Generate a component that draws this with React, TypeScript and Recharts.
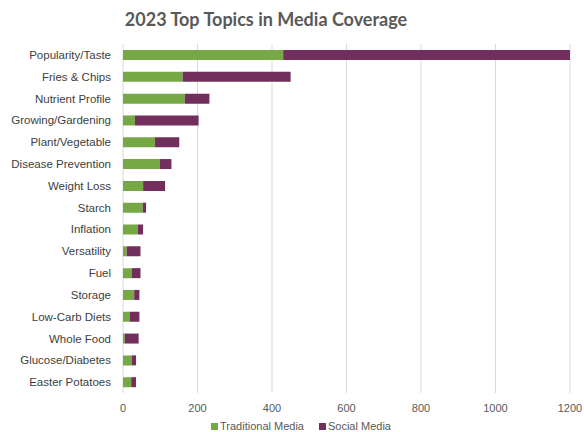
import { BarChart, Bar, XAxis, YAxis, CartesianGrid, Legend } from "recharts";

const topics = [
  "Popularity/Taste",
  "Fries & Chips",
  "Nutrient Profile",
  "Growing/Gardening",
  "Plant/Vegetable",
  "Disease Prevention",
  "Weight Loss",
  "Starch",
  "Inflation",
  "Versatility",
  "Fuel",
  "Storage",
  "Low-Carb Diets",
  "Whole Food",
  "Glucose/Diabetes",
  "Easter Potatoes",
];
const traditional = [430, 160, 166, 32, 86, 99, 54, 53, 40, 10, 23, 30, 18, 5, 23, 22];
const social = [770, 290, 66, 171, 65, 31, 59, 9, 14, 37, 24, 14, 26, 37, 12, 13];
const ticks = [0, 200, 400, 600, 800, 1000, 1200];
const seriesNames = ["Traditional Media", "Social Media"];

const data = topics.map((name, i) => ({
  name,
  traditional: traditional[i],
  social: social[i],
}));

const GREEN = "#77a846";
const PURPLE = "#722f5d";
const FONT = "'Liberation Sans', Arial, sans-serif";

function CategoryTick(props: any) {
  const { x, y, payload } = props;
  return (
    <text x={x} y={y} dy="0.355em" textAnchor="end" fill="#404040" fontSize={11.5} fontFamily={FONT}>
      {payload.value}
    </text>
  );
}

function LegendBox() {
  const colors = [GREEN, PURPLE];
  return (
    <div style={{ display: "flex", fontFamily: FONT, fontSize: 11, color: "#595959", lineHeight: "13px" }}>
      {seriesNames.map((n, i) => (
        <div key={n} style={{ display: "flex", alignItems: "center", marginRight: 15 }}>
          <span style={{ display: "inline-block", width: 7, height: 7, background: colors[i], marginRight: 2 }} />
          <span>{n}</span>
        </div>
      ))}
    </div>
  );
}

export default function App() {
  return (
    <div style={{ position: "absolute", left: 0, top: 0, width: 584, height: 432, background: "#fff", overflow: "hidden" }}>
      <div
        style={{
          position: "absolute",
          top: 8,
          left: 0,
          width: 532,
          textAlign: "center",
          fontFamily: "Lato, 'Open Sans', sans-serif",
          fontWeight: 700,
          fontSize: 18,
          color: "#595959",
        }}
      >
        2023 Top Topics in Media Coverage
      </div>
      <BarChart
        width={584}
        height={432}
        layout="vertical"
        data={data}
        margin={{ top: 44, right: 14, left: 0, bottom: 9 }}
        style={{ fontFamily: FONT }}
      >
        <CartesianGrid horizontal={false} stroke="#d9d9d9" />
        <XAxis
          type="number"
          domain={[0, 1200]}
          ticks={ticks}
          allowDataOverflow
          axisLine={false}
          tickLine={false}
          tickMargin={5}
          tick={{ fill: "#595959", fontSize: 11 }}
        />
        <YAxis
          type="category"
          dataKey="name"
          width={123}
          axisLine={false}
          tickLine={false}
          tickMargin={6}
          interval={0}
          tick={<CategoryTick />}
        />
        <Legend
          verticalAlign="middle"
          align="center"
          content={<LegendBox />}
          wrapperStyle={{ top: 420, left: 211, width: 250 }}
        />
        <Bar dataKey="traditional" name={seriesNames[0]} stackId="a" fill={GREEN} barSize={10} isAnimationActive={false} />
        <Bar dataKey="social" name={seriesNames[1]} stackId="a" fill={PURPLE} barSize={10} isAnimationActive={false} />
      </BarChart>
    </div>
  );
}
